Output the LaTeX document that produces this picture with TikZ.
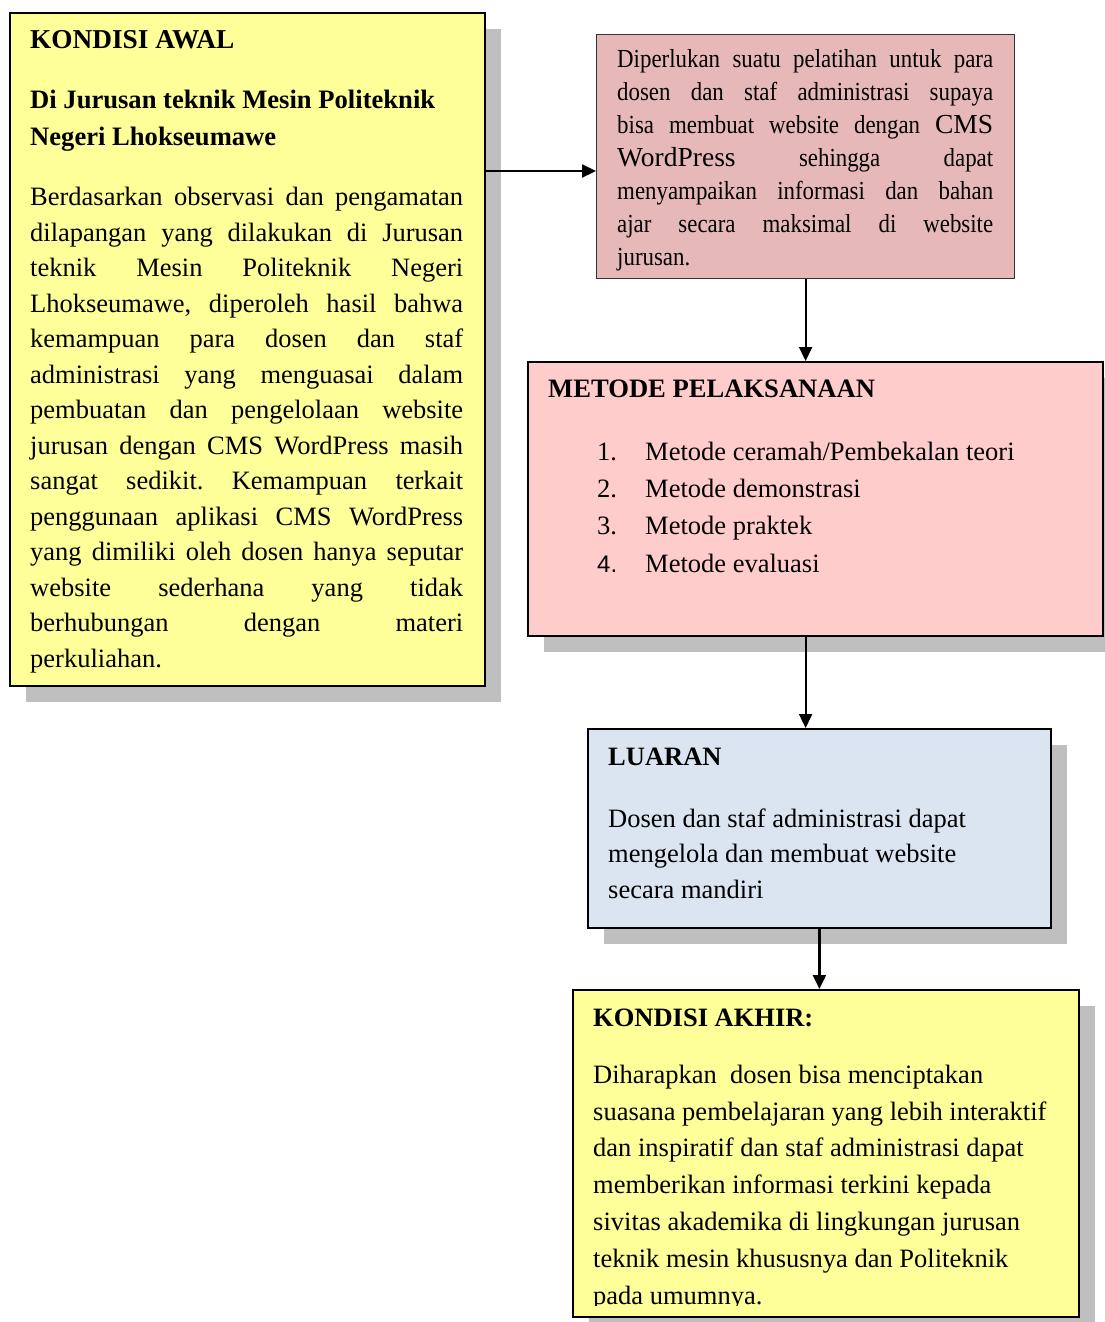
\documentclass[tikz,border=0pt]{standalone}
\usepackage{fontspec}
\setmainfont{Liberation Serif}
\newfontfamily\condfont[FakeStretch=0.88]{Liberation Serif}
\newfontfamily\normfont{Liberation Serif}
\newfontfamily\arialfont{Liberation Sans}
\usetikzlibrary{arrows.meta,shadows}
\definecolor{ylw}{HTML}{FFFF99}
\definecolor{pinkA}{HTML}{E6B9B8}
\definecolor{pinkB}{HTML}{FFCCCC}
\definecolor{blueC}{HTML}{DBE5F1}
\definecolor{shadowgrey}{HTML}{BFBFBF}
\newcommand\firststrut{\rule{0pt}{20pt}}
\hbadness=10000 \vbadness=10000
\frenchspacing
\begin{document}
\begin{tikzpicture}[x=1pt,y=-1pt,
  boxnode/.style={draw=black, line width=1.8pt, anchor=north west, inner sep=0pt},
  shad/.style={general shadow={fill=shadowgrey, shadow xshift=16pt, shadow yshift=-16pt}},
  txt/.style={anchor=north west, inner sep=0pt, align=left, font=\fontsize{26.5}{35.5}\selectfont},
  arr/.style={line width=2.2pt, -{Triangle[length=14pt,width=13pt]}}]
\useasboundingbox (0,0) rectangle (1104,1322);

% boxes
\node[boxnode, shad, fill=ylw, minimum width=475pt, minimum height=673pt] (awal) at (9,12) {};
\node[boxnode, fill=pinkA, draw=black!80, line width=1.2pt, minimum width=418pt, minimum height=244pt] (perlu) at (596,34) {};
\node[boxnode, shad, fill=pinkB, minimum width=575pt, minimum height=274pt] (metode) at (527,361) {};
\node[boxnode, shad, fill=blueC, minimum width=463pt, minimum height=199pt] (luaran) at (587,728) {};
\node[boxnode, shad, fill=ylw, minimum width=506pt, minimum height=327pt] (akhir) at (572,989) {};

% KONDISI AWAL
\node[txt, font=\bfseries\fontsize{27.3}{36.5}\selectfont] (awalT) at (30,28) {\firststrut KONDISI AWAL};
\node[txt, font=\bfseries\fontsize{26.6}{36.5}\selectfont] (awalS) at (30,88.5) {\firststrut Di Jurusan teknik Mesin Politeknik\\Negeri Lhokseumawe};
\node[txt, text width=433pt, align=justify] (awalB) at (30,185.5) {\hyphenpenalty=10000\tolerance=10000\firststrut
Berdasarkan observasi dan pengamatan\linebreak
dilapangan yang dilakukan di Jurusan\linebreak
teknik Mesin Politeknik Negeri\linebreak
Lhokseumawe, diperoleh hasil bahwa\linebreak
kemampuan para dosen dan staf\linebreak
administrasi yang menguasai dalam\linebreak
pembuatan dan pengelolaan website\linebreak
jurusan dengan CMS WordPress masih\linebreak
sangat sedikit. Kemampuan terkait\linebreak
penggunaan aplikasi CMS WordPress\linebreak
yang dimiliki oleh dosen hanya seputar\linebreak
website sederhana yang tidak\linebreak
berhubungan dengan materi\linebreak
perkuliahan.};

% Diperlukan
\node[txt, text width=376pt, align=justify, font=\condfont\fontsize{26}{33}\selectfont] (perluT) at (617,47) {\hyphenpenalty=10000\tolerance=10000\firststrut
Diperlukan suatu pelatihan untuk para\linebreak
dosen dan staf administrasi supaya\linebreak
bisa membuat website dengan {\normfont\fontsize{27.5}{33}\selectfont CMS}\linebreak
{\normfont\fontsize{27.5}{33}\selectfont WordPress} sehingga dapat\linebreak
menyampaikan informasi dan bahan\linebreak
ajar secara maksimal di website\linebreak
jurusan.};

% METODE
\node[txt, font=\bfseries\fontsize{26.6}{35.5}\selectfont] (metT) at (548,377.5) {\firststrut METODE PELAKSANAAN};
\node[txt, font=\fontsize{26.5}{37.3}\selectfont] (metN) at (597,440) {\firststrut 1.\\2.\\3.\\{\arialfont\fontsize{24}{37.3}\selectfont 4.}};
\node[txt, font=\fontsize{26.5}{37.3}\selectfont] (metL) at (645,440) {\firststrut Metode ceramah/Pembekalan teori\\Metode demonstrasi\\Metode praktek\\Metode evaluasi};

% LUARAN
\node[txt, font=\bfseries\fontsize{26.5}{35}\selectfont] (luarT) at (608,745.5) {\firststrut LUARAN};
\node[txt, font=\fontsize{26.5}{35.5}\selectfont] (luarB) at (608,807) {\firststrut Dosen dan staf administrasi dapat\\mengelola dan membuat website\\secara mandiri};

% KONDISI AKHIR
\node[txt, font=\bfseries\fontsize{26.5}{35}\selectfont] (akhirT) at (593,1006) {\firststrut KONDISI AKHIR:};
\begin{scope}
\clip (572,989) rectangle (1078,1305);
\node[txt, font=\fontsize{26.5}{36.8}\selectfont] (akhirB) at (593,1063) {\firststrut Diharapkan~ dosen bisa menciptakan\\suasana pembelajaran yang lebih interaktif\\dan inspiratif dan staf administrasi dapat\\memberikan informasi terkini kepada\\sivitas akademika di lingkungan jurusan\\teknik mesin khususnya dan Politeknik\\pada umumnya.};
\end{scope}

% connectors
\coordinate (a1) at (540,171);
\draw[arr] (awal.east |- a1) -- (perlu.west |- a1);
\draw[arr] (perlu.south) -- (perlu.south |- metode.north);
\draw[arr] (metode.south -| perlu.south) -- (luaran.north -| perlu.south);
\draw[arr] (luaran.south) -- (luaran.south |- akhir.north);
\end{tikzpicture}
\end{document}
